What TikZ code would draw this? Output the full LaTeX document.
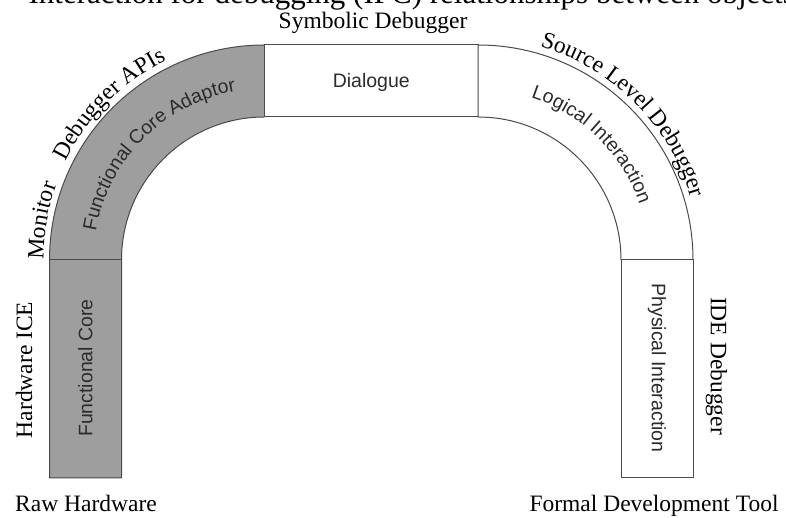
\documentclass[tikz,border=0pt]{standalone}
\usepackage{fontspec}
\setmainfont{Liberation Serif}
\newfontfamily\bandfont{Liberation Sans}
\usetikzlibrary{decorations.text}

\definecolor{bandline}{HTML}{4A4A4A}
\definecolor{corefill}{HTML}{9E9E9E}
\definecolor{innertext}{HTML}{2B2B2B}

\newcommand\lblouter{\fontsize{23.5}{24}\selectfont}
\newcommand\lblinner{\bandfont\fontsize{19.5}{20}\selectfont}

\tikzset{
  band/.style={draw=bandline, line width=1pt, line join=round},
  coreband/.style={band, fill=corefill},
  plainband/.style={band, fill=white},
  outerlbl/.style={font=\lblouter, inner sep=0pt},
  innerlbl/.style={font=\lblinner, text=innertext, inner sep=0pt},
  outercurve/.style={decorate, decoration={text along path, text align=center,
      text={|\lblouter|#1}}},
  innercurve/.style={decorate, decoration={text along path, text align=center,
      text color=innertext, text={|\lblinner|#1}}}
}

\begin{document}
\begin{tikzpicture}[x=1pt,y=1pt]
\useasboundingbox (0,0) rectangle (786,518);
\clip (0,0) rectangle (786,518);

% caption line above the figure
\node[font=\fontsize{31}{32}\selectfont, anchor=base east, inner sep=0pt] (caption)
  at (795,514) {Interaction for debugging (IPC) relationships between objects};

% arc centres
\coordinate (lc) at (264.5,258);
\coordinate (rc) at (478,258);

% shaded core: straight left leg and left bend
\path[coreband] (49.5,40) -- (49.5,258)
  arc[start angle=180, end angle=90, radius=215] -- (264.5,401)
  arc[start angle=90, end angle=180, radius=143] -- (121.5,40) -- cycle;
\draw[band] (49.5,258) -- (121.5,258);

% top segment
\path[plainband] (264.5,401) rectangle (478,473);

% right bend
\path[plainband] (478,473) arc[start angle=90, end angle=0, radius=215]
  -- (621,258) arc[start angle=0, end angle=90, radius=143] -- cycle;

% right leg
\path[plainband] (621,40) rectangle (693,258);

% labels inside the band
\node[innerlbl] (dialogue) at (371.25,436) {Dialogue};
\node[innerlbl, rotate=90] (fcore) at (85.5,150) {Functional Core};
\node[innerlbl, rotate=-90] (physical) at (657,150) {Physical Interaction};

\begin{scope}[shift={(lc)}]
  \path[innercurve={Functional Core Adaptor}] (178:171) arc[start angle=178, end angle=92, radius=171];
  \path[outercurve={Debugger APIs}] (170:222) arc[start angle=170, end angle=100, radius=222];
  \path[outercurve={Monitor}] (190:221) arc[start angle=190, end angle=150, radius=221];
\end{scope}

\begin{scope}[shift={(rc)}]
  \path[innercurve={Logical Interaction}] (88:171) arc[start angle=88, end angle=3, radius=171];
  \path[outercurve={Source Level Debugger}] (85:222) arc[start angle=85, end angle=5, radius=222];
\end{scope}

% labels around the band
\node[outerlbl, anchor=base] (symbolic) at (373,489) {Symbolic Debugger};
\node[outerlbl, rotate=90] (hwice) at (24,148) {Hardware ICE};
\node[outerlbl, rotate=-90] (ide) at (716.5,152) {IDE Debugger};
\node[outerlbl, anchor=base] (raw) at (86,6) {Raw Hardware};
\node[outerlbl, anchor=base] (formal) at (654,6) {Formal Development Tool};
\end{tikzpicture}
\end{document}
